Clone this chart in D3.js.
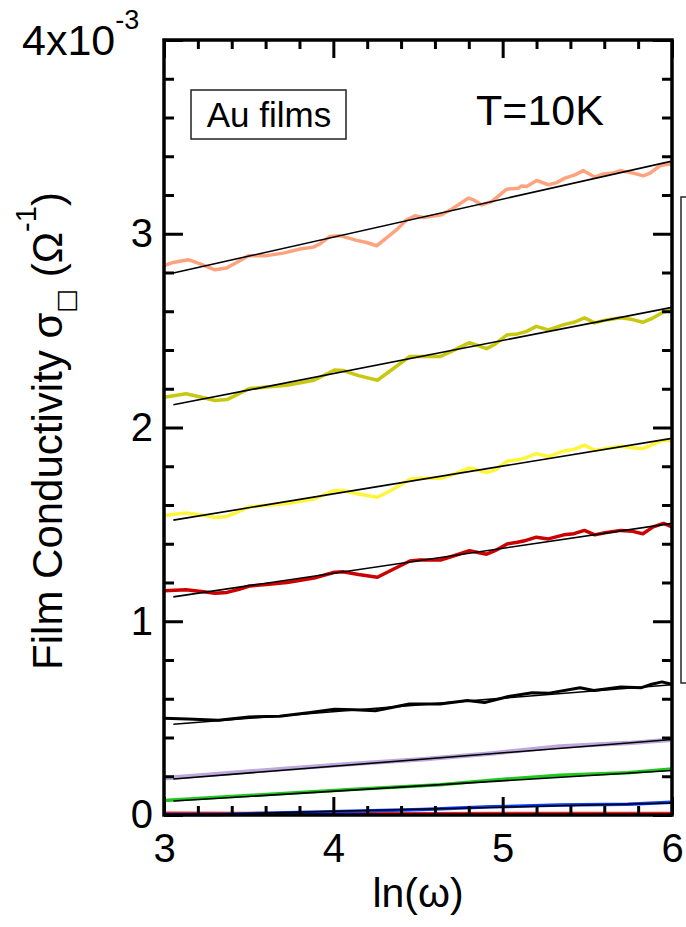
<!DOCTYPE html>
<html>
<head>
<meta charset="utf-8">
<script src="https://cdn.jsdelivr.net/npm/d3@7"></script>
<style>
  html, body { margin: 0; padding: 0; background: #fff; }
  svg { display: block; font-family: "Liberation Sans", Arial, Helvetica, sans-serif; }
</style>
</head>
<body>
<svg id="chart" width="686" height="927"></svg>
<script>
// ---- Film conductivity (units of 1e-3 Ω^-1) versus ln(ω), Au films at T = 10 K ----

// shared ln(ω) grid for the three middle curves
const lnOmegaMid = [3.0, 3.130, 3.221, 3.301, 3.372, 3.443, 3.504, 3.605, 3.726, 3.886,
  4.007, 4.057, 4.149, 4.260, 4.351, 4.452, 4.512, 4.633, 4.713, 4.804,
  4.905, 4.955, 5.026, 5.087, 5.138, 5.199, 5.270, 5.361, 5.421, 5.483,
  5.544, 5.604, 5.697, 5.767, 5.828, 5.889, 5.950, 6.0];

const sigmaOlive = [2.156, 2.174, 2.156, 2.139, 2.144, 2.174, 2.201, 2.209, 2.218, 2.244,
  2.297, 2.294, 2.268, 2.244, 2.302, 2.367, 2.367, 2.367, 2.399, 2.438,
  2.407, 2.430, 2.478, 2.483, 2.495, 2.522, 2.504, 2.531, 2.543, 2.566,
  2.540, 2.554, 2.566, 2.557, 2.543, 2.566, 2.596, 2.608];

const sigmaYellow = [1.546, 1.559, 1.549, 1.536, 1.541, 1.567, 1.590, 1.599, 1.608, 1.631,
  1.675, 1.675, 1.657, 1.640, 1.680, 1.733, 1.738, 1.738, 1.759, 1.791,
  1.768, 1.780, 1.826, 1.833, 1.844, 1.865, 1.850, 1.879, 1.887, 1.909,
  1.882, 1.891, 1.903, 1.896, 1.891, 1.914, 1.935, 1.931];

const sigmaRed = [1.158, 1.162, 1.153, 1.144, 1.149, 1.165, 1.182, 1.190, 1.200, 1.223,
  1.253, 1.255, 1.241, 1.227, 1.267, 1.311, 1.316, 1.316, 1.338, 1.364,
  1.346, 1.364, 1.399, 1.408, 1.417, 1.434, 1.425, 1.446, 1.452, 1.469,
  1.446, 1.457, 1.469, 1.464, 1.452, 1.487, 1.505, 1.487];

const lnOmegaSalmon = [3.0, 3.055, 3.143, 3.213, 3.301, 3.370, 3.439, 3.498, 3.606, 3.705,
  3.803, 3.882, 3.921, 3.980, 4.039, 4.138, 4.197, 4.256, 4.325, 4.374,
  4.433, 4.482, 4.531, 4.640, 4.708, 4.797, 4.827, 4.876, 4.935, 5.024,
  5.092, 5.112, 5.142, 5.201, 5.270, 5.319, 5.368, 5.427, 5.476, 5.545,
  5.594, 5.653, 5.693, 5.771, 5.831, 5.870, 5.929, 5.988, 6.0];

const sigmaSalmon = [2.835, 2.852, 2.866, 2.845, 2.814, 2.823, 2.857, 2.887, 2.887, 2.900,
  2.921, 2.931, 2.948, 2.986, 2.990, 2.966, 2.955, 2.938, 2.986, 3.021,
  3.072, 3.093, 3.084, 3.098, 3.132, 3.184, 3.175, 3.149, 3.166, 3.230,
  3.235, 3.247, 3.244, 3.275, 3.253, 3.264, 3.287, 3.304, 3.326, 3.292,
  3.309, 3.313, 3.326, 3.313, 3.299, 3.313, 3.351, 3.361, 3.356];

const lnOmegaBlack = [3.0, 3.139, 3.321, 3.502, 3.683, 3.865, 4.006, 4.127, 4.248, 4.449,
  4.630, 4.792, 4.893, 5.034, 5.175, 5.275, 5.457, 5.538, 5.699, 5.820,
  5.880, 5.941, 6.0];
const sigmaBlack = [0.499, 0.495, 0.489, 0.506, 0.510, 0.529, 0.546, 0.543, 0.538, 0.573,
  0.573, 0.591, 0.580, 0.612, 0.631, 0.629, 0.657, 0.643, 0.661, 0.657,
  0.675, 0.687, 0.675];

const lnOmegaLavender = [3.0, 3.321, 3.723, 4.127, 4.530, 4.933, 5.336, 5.739, 6.0];
const sigmaLavender = [0.190, 0.212, 0.239, 0.265, 0.288, 0.318, 0.353, 0.371, 0.388];

const lnOmegaGreen = [3.0, 3.524, 4.129, 4.632, 4.935, 5.339, 5.739, 6.0];
const sigmaGreen = [0.075, 0.102, 0.133, 0.156, 0.180, 0.205, 0.218, 0.237];

const lnOmegaBlue = [3.0, 3.321, 3.924, 4.528, 4.931, 5.335, 5.739, 6.0];
const sigmaBlue = [0.002, 0.003, 0.015, 0.028, 0.042, 0.051, 0.056, 0.066];

const lnOmegaBase = [3.0, 3.5, 4.0, 4.5, 5.0, 5.5, 6.0];
const sigmaBase = [0.008, 0.006, 0.005, 0.005, 0.006, 0.006, 0.007];

// straight-line fits in ln(ω): [start, end] pairs
const fitSalmonX = [3.055, 6.0],   fitSalmonY = [2.797, 3.375];
const fitOliveX = [3.055, 6.0],    fitOliveY = [2.117, 2.620];
const fitYellowX = [3.055, 6.0],   fitYellowY = [1.522, 1.944];
const fitRedX = [3.055, 6.0],      fitRedY = [1.126, 1.505];
const fitBlackX = [3.055, 6.0],    fitBlackY = [0.468, 0.672];
const fitLavenderX = [3.055, 6.0], fitLavenderY = [0.186, 0.390];
const fitGreenX = [3.055, 6.0],    fitGreenY = [0.072, 0.230];
const fitBlueX = [3.31, 6.0],      fitBlueY = [0.004, 0.062];

// axis ticks
const xMajorTicks = [3, 4, 5, 6];
const yMajorTicks = [0, 1, 2, 3];
const topLabelValue = 4;

// ---- drawing ----
const svg = d3.select("#chart");
const X0 = 164, X1 = 672, Y0 = 815, Y1 = 40;
const x = d3.scaleLinear().domain([3, 6]).range([X0, X1]);
const y = d3.scaleLinear().domain([0, 4]).range([Y0, Y1]);

const xMinor = d3.range(3, 6.0001, 0.2).map(v => +v.toFixed(2));
const yMinor = d3.range(0, 4.0001, 0.2).map(v => +v.toFixed(2));

svg.append("defs").append("clipPath").attr("id", "plotClip")
  .append("rect").attr("x", X0).attr("y", Y1).attr("width", X1 - X0).attr("height", Y0 - Y1 + 2);

const series = [
  { xs: lnOmegaBase, ys: sigmaBase, color: "#ff1a1a", w: 4 },
  { xs: lnOmegaBlue, ys: sigmaBlue, color: "#0a3cff", w: 3.5, fx: fitBlueX, fy: fitBlueY },
  { xs: lnOmegaGreen, ys: sigmaGreen, color: "#1ec81e", w: 3.5, fx: fitGreenX, fy: fitGreenY },
  { xs: lnOmegaLavender, ys: sigmaLavender, color: "#bda7dc", w: 4.5, fx: fitLavenderX, fy: fitLavenderY },
  { xs: lnOmegaBlack, ys: sigmaBlack, color: "#000000", w: 3, fx: fitBlackX, fy: fitBlackY },
  { xs: lnOmegaMid, ys: sigmaRed, color: "#cc0000", w: 3.5, fx: fitRedX, fy: fitRedY },
  { xs: lnOmegaMid, ys: sigmaYellow, color: "#fff53a", w: 3.5, fx: fitYellowX, fy: fitYellowY },
  { xs: lnOmegaMid, ys: sigmaOlive, color: "#c8c810", w: 3.5, fx: fitOliveX, fy: fitOliveY },
  { xs: lnOmegaSalmon, ys: sigmaSalmon, color: "#ffa37f", w: 3.5, fx: fitSalmonX, fy: fitSalmonY }
];

const line = d3.line().x(d => x(d[0])).y(d => y(d[1])).curve(d3.curveLinear);
const plot = svg.append("g").attr("clip-path", "url(#plotClip)");

// measured curves
plot.selectAll("path.data").data(series).join("path")
  .attr("class", "data")
  .attr("d", s => line(d3.zip(s.xs, s.ys)))
  .attr("fill", "none")
  .attr("stroke", s => s.color)
  .attr("stroke-width", s => s.w)
  .attr("stroke-linejoin", "round")
  .attr("stroke-linecap", "round");

// linear fits on top
plot.selectAll("path.fit").data(series.filter(s => s.fx)).join("path")
  .attr("class", "fit")
  .attr("d", s => line(d3.zip(s.fx, s.fy)))
  .attr("fill", "none")
  .attr("stroke", "#000")
  .attr("stroke-width", 1.6);

// ticks on all four sides, pointing inward
function ticks(axisGen, transform, values, size) {
  const g = svg.append("g").attr("transform", transform)
    .call(axisGen.tickValues(values).tickSize(-size).tickFormat(""));
  g.select(".domain").remove();
  g.selectAll(".tick line").attr("stroke", "#000").attr("stroke-width", 3);
  return g;
}
const xMinorOnly = xMinor.filter(v => !xMajorTicks.includes(v));
const yMinorOnly = yMinor.filter(v => !Number.isInteger(v));
const yMajorAll = yMinor.filter(v => Number.isInteger(v));

ticks(d3.axisBottom(x), `translate(0,${Y0})`, xMinorOnly, 9);
ticks(d3.axisBottom(x), `translate(0,${Y0})`, xMajorTicks, 18);
ticks(d3.axisTop(x), `translate(0,${Y1})`, xMinorOnly, 9);
ticks(d3.axisTop(x), `translate(0,${Y1})`, xMajorTicks, 18);
ticks(d3.axisLeft(y), `translate(${X0},0)`, yMinorOnly, 10);
ticks(d3.axisLeft(y), `translate(${X0},0)`, yMajorAll, 19);
ticks(d3.axisRight(y), `translate(${X1},0)`, yMinorOnly, 10);
ticks(d3.axisRight(y), `translate(${X1},0)`, yMajorAll, 19);

// tick labels
const xLab = svg.append("g").attr("transform", `translate(0,${Y0})`)
  .call(d3.axisBottom(x).tickValues(xMajorTicks).tickSize(0).tickPadding(19).tickFormat(d3.format("d")));
xLab.select(".domain").remove();
xLab.selectAll("text").attr("font-size", 40).attr("fill", "#000")
  .attr("font-family", "'Liberation Sans', Arial, sans-serif");

const yLab = svg.append("g").attr("transform", `translate(${X0},0)`)
  .call(d3.axisLeft(y).tickValues(yMajorTicks).tickSize(0).tickPadding(11).tickFormat(d3.format("d")));
yLab.select(".domain").remove();
yLab.selectAll("text").attr("font-size", 40).attr("fill", "#000")
  .attr("font-family", "'Liberation Sans', Arial, sans-serif");

// top label 4x10^-3
const topLabel = svg.append("text").attr("x", 22).attr("y", y(topLabelValue) + 15).attr("font-size", 43);
topLabel.append("tspan").text("4x10");
topLabel.append("tspan").attr("font-size", 27).attr("dy", -26).text("-3");

// frame
svg.append("rect").attr("x", X0).attr("y", Y1).attr("width", X1 - X0).attr("height", Y0 - Y1)
  .attr("fill", "none").attr("stroke", "#000").attr("stroke-width", 3.5);

// axis titles
svg.append("text").attr("x", 418).attr("y", 907).attr("text-anchor", "middle")
  .attr("font-size", 41).text("ln(ω)");

const yTitle = svg.append("text").attr("transform", "translate(62,431) rotate(-90)")
  .attr("text-anchor", "middle").attr("font-size", 42);
yTitle.append("tspan").text("Film Conductivity σ");
yTitle.append("tspan").attr("font-size", 25).attr("font-family", "'DejaVu Sans'").attr("dy", 12).text("□");
yTitle.append("tspan").attr("dy", -12).text(" (Ω");
yTitle.append("tspan").attr("font-size", 29).attr("dy", -26).text("-1");
yTitle.append("tspan").attr("dy", 26).text(")");

// annotations
svg.append("rect").attr("x", 191).attr("y", 90).attr("width", 155).attr("height", 49)
  .attr("fill", "#fff").attr("stroke", "#222").attr("stroke-width", 1.5);
svg.append("text").attr("x", 269).attr("y", 127).attr("text-anchor", "middle")
  .attr("font-size", 35).text("Au films");
svg.append("text").attr("x", 476).attr("y", 125).attr("font-size", 43).text("T=10K");

// legend frame at the right edge
svg.append("rect").attr("x", 681).attr("y", 197).attr("width", 40).attr("height", 486)
  .attr("fill", "none").attr("stroke", "#333").attr("stroke-width", 1.6);
</script>
</body>
</html>
